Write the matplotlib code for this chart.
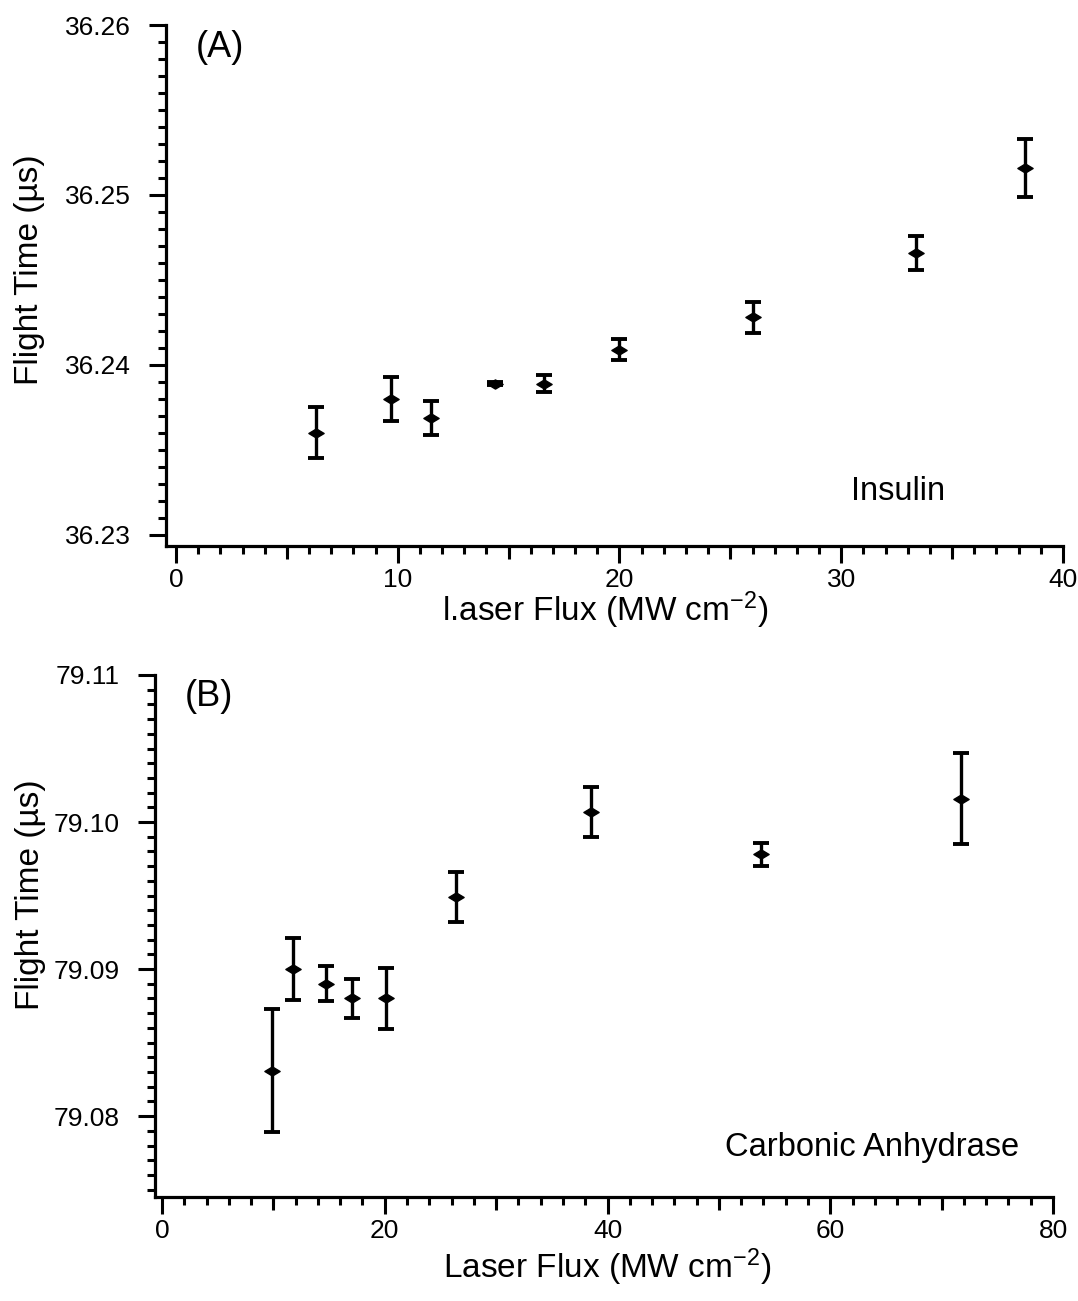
import matplotlib
matplotlib.use('Agg')
import matplotlib.pyplot as plt
from matplotlib.path import Path
from matplotlib.ticker import MultipleLocator, FixedLocator, NullFormatter, FormatStrFormatter

plt.rcParams['font.family'] = ['Liberation Sans', 'DejaVu Sans']
plt.rcParams['mathtext.fontset'] = 'custom'
plt.rcParams['mathtext.rm'] = 'Liberation Sans'
plt.rcParams['mathtext.it'] = 'Liberation Sans:italic'
plt.rcParams['mathtext.bf'] = 'Liberation Sans:bold'

# ---------------- data ----------------
# Panel A: Insulin
insulin_flux = [6.3, 9.7, 11.5, 14.4, 16.6, 20.0, 26.0, 33.35, 38.3]
insulin_time = [36.2360, 36.2380, 36.2369, 36.2389, 36.2389, 36.2409, 36.2428, 36.2466, 36.2516]
insulin_err = [0.0015, 0.0013, 0.0010, 0.0001, 0.0005, 0.0006, 0.0009, 0.0010, 0.0017]

# Panel B: Carbonic Anhydrase
ca_flux = [9.9, 11.8, 14.7, 17.1, 20.1, 26.4, 38.5, 53.8, 71.7]
ca_time = [79.0831, 79.0900, 79.0890, 79.0880, 79.0880, 79.0949, 79.1007, 79.0978, 79.1016]
ca_err = [0.0042, 0.0021, 0.0012, 0.0013, 0.0021, 0.0017, 0.0017, 0.0008, 0.0031]

a_yticks = [36.23, 36.24, 36.25, 36.26]
a_xticks = [0, 10, 20, 30, 40]
b_yticks = [79.08, 79.09, 79.10, 79.11]
b_xticks = [0, 20, 40, 60, 80]

ylabel = 'Flight Time (µs)'
xlabel_a = 'l.aser Flux (MW cm$^{\\mathrm{-2}}$)'
xlabel_b = 'Laser Flux (MW cm$^{\\mathrm{-2}}$)'

# ---------------- figure ----------------
W, H = 1078, 1301
fig = plt.figure(figsize=(W / 100, H / 100), dpi=100)


def px_axes(left, right, top, bottom):
    return fig.add_axes([left / W, 1 - bottom / H, (right - left) / W, (bottom - top) / H])


marker = Path([(-1, 0), (0, 0.6), (1, 0), (0, -0.6), (-1, 0)],
              [Path.MOVETO, Path.LINETO, Path.LINETO, Path.LINETO, Path.CLOSEPOLY])

TICK_FS = 19
LABEL_FS = 24
ANN_FS = 23.5


def style(ax, xlim, ylim, xticks, xmin_step, xmed, yticks, ymin_step, yfmt):
    ax.set_xlim(*xlim)
    ax.set_ylim(*ylim)
    for s in ('top', 'right'):
        ax.spines[s].set_visible(False)
    for s in ('left', 'bottom'):
        ax.spines[s].set_linewidth(2.3)
    ax.xaxis.set_major_locator(FixedLocator(xticks))
    ax.xaxis.set_minor_locator(MultipleLocator(xmin_step))
    ax.yaxis.set_major_locator(FixedLocator(yticks))
    ax.yaxis.set_minor_locator(MultipleLocator(ymin_step))
    ax.yaxis.set_major_formatter(FormatStrFormatter(yfmt))
    ax.tick_params(which='major', direction='out', length=12.5, width=2.2,
                   labelsize=TICK_FS)
    ax.tick_params(axis='x', which='major', pad=3)
    ax.tick_params(axis='y', which='major', pad=13)
    ax.tick_params(which='minor', direction='out', length=6, width=2.2)
    sec = ax.secondary_xaxis('bottom')
    sec.xaxis.set_major_locator(FixedLocator(xmed))
    sec.xaxis.set_major_formatter(NullFormatter())
    sec.tick_params(direction='out', length=9.5, width=2.2)
    sec.spines['bottom'].set_visible(False)


def draw(ax, x, y, e):
    ax.errorbar(x, y, yerr=e, fmt='none', ecolor='black', elinewidth=2.4,
                capsize=6, capthick=2.8)
    ax.plot(x, y, linestyle='none', marker=marker, markersize=11,
            color='black')


# Panel A
axA = px_axes(166, 1063, 25, 546)
draw(axA, insulin_flux, insulin_time, insulin_err)
style(axA, (-0.45, 40), (36.22935, 36.26), a_xticks, 1, [5, 15, 25, 35],
      a_yticks, 0.001, '%.2f')
axA.set_ylabel(ylabel, fontsize=LABEL_FS, va='center', ha='center')
axA.yaxis.set_label_coords(-0.152, 0.53)
axA.set_xlabel(xlabel_a, fontsize=LABEL_FS, va='center', ha='center')
axA.xaxis.set_label_coords(0.49, -0.124)
axA.text(0.033, 0.956, '(A)', transform=axA.transAxes, fontsize=26,
         va='center', ha='left')
axA.text(0.764, 0.104, 'Insulin', transform=axA.transAxes, fontsize=ANN_FS,
         va='center', ha='left')

# Panel B
axB = px_axes(155, 1053, 675, 1197)
draw(axB, ca_flux, ca_time, ca_err)
style(axB, (-0.63, 80), (79.0745, 79.11), b_xticks, 2, [10, 30, 50, 70],
      b_yticks, 0.001, '%.2f')
axB.set_ylabel(ylabel, fontsize=LABEL_FS, va='center', ha='center')
axB.yaxis.set_label_coords(-0.139, 0.58)
axB.set_xlabel(xlabel_b, fontsize=LABEL_FS, va='center', ha='center')
axB.xaxis.set_label_coords(0.503, -0.134)
axB.text(0.033, 0.958, '(B)', transform=axB.transAxes, fontsize=26,
         va='center', ha='left')
axB.text(0.635, 0.094, 'Carbonic Anhydrase', transform=axB.transAxes,
         fontsize=ANN_FS, va='center', ha='left')

fig.savefig('out.png', dpi=100, facecolor='white')
